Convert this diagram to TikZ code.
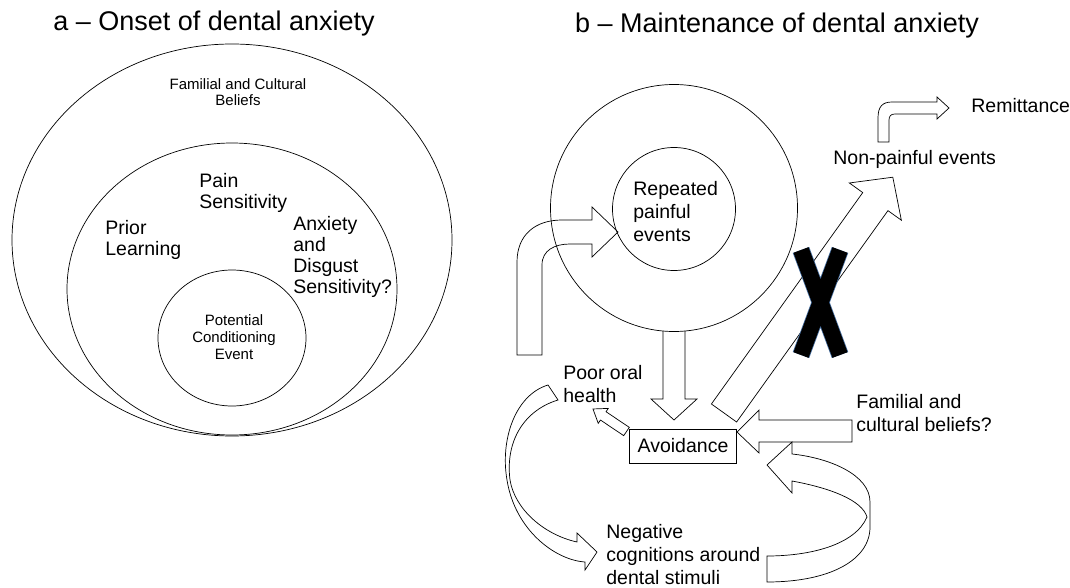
\documentclass[tikz,border=0pt]{standalone}
\usepackage{fontspec}
\setmainfont{Liberation Sans}
\usetikzlibrary{shapes.geometric}

\tikzset{
  panel title/.style={font=\fontsize{27}{30}\selectfont, inner sep=0pt},
  left label/.style={font=\fontsize{19.5}{21}\selectfont, align=left, inner sep=0pt, anchor=west},
  right label/.style={font=\fontsize{19.5}{23}\selectfont, align=left, inner sep=0pt, anchor=west},
  small label/.style={font=\fontsize{15}{16}\selectfont, align=center, inner sep=0pt},
  ring/.style={draw, line width=0.7pt},
  block arrow/.style={draw, line width=0.7pt, line join=miter},
}

\begin{document}
\begin{tikzpicture}[x=1pt, y=-1pt, line width=0.7pt]
  \useasboundingbox (0,0) rectangle (1070,588);

  % Panel a: onset, nested circles
  \node [panel title] (titleA) at (214,24) {a \textendash{} Onset of dental anxiety};
  \node [ring, ellipse, minimum width=440pt, minimum height=392pt] (beliefs) at (232,240) {};
  \node [ring, ellipse, minimum width=330pt, minimum height=292pt] (traits) at (232,289) {};
  \node [ring, ellipse, minimum width=148pt, minimum height=136pt] (event) at (232,338) {};

  \node [small label] (famA) at (238,92) {Familial and Cultural\\Beliefs};
  \node [left label] (pain) at (199,193) {Pain\\Sensitivity};
  \node [left label] (prior) at (105,240) {Prior\\Learning};
  \node [left label] (anxdis) at (293,257) {Anxiety\\and\\Disgust\\Sensitivity?};
  \node [small label, font=\fontsize{15}{17}\selectfont] (pce) at (234,337) {Potential\\Conditioning\\Event};

  % Panel b: maintenance cycle
  \node [panel title] (titleB) at (777,26) {b \textendash{} Maintenance of dental anxiety};
  \node [ring, circle, minimum size=247pt] (dentist) at (674,208) {};
  \node [ring, circle, minimum size=123pt] (painful) at (674,209) {};
  \node [right label] (repeated) at (633,212) {Repeated\\painful\\events};

  \node [draw, inner sep=0pt, minimum width=107pt, minimum height=34pt,
    font=\fontsize{19.5}{23}\selectfont] (avoid) at (683,446) {Avoidance};
  \node [right label] (poor) at (563,384) {Poor oral\\health};
  \node [right label] (negative) at (606,555) {Negative\\cognitions around\\dental stimuli};
  \node [right label] (famB) at (856,413) {Familial and\\cultural beliefs?};
  \node [right label] (nonpain) at (833,159) {Non-painful events};
  \node [right label] (remit) at (971,106) {Remittance};

  % bent arrow into the painful events
  \draw [block arrow] (517,355) -- (517,262) .. controls (517,235) and (535,220) .. (562,220)
    -- (592,220) -- (592,207) -- (618,232) -- (592,257) -- (592,244) -- (570,244)
    .. controls (555,244) and (542,250) .. (542,265) -- (542,355) -- cycle;

  % circle down to avoidance
  \draw [block arrow] (663,331) -- (663,399) -- (651,399) -- (674,420) -- (697,399)
    -- (685,399) -- (685,331);

  % avoidance to non-painful events
  \begin{scope}[shift={(724,413)}, rotate=54.4]
    \draw [block arrow] (0,-15.5) -- (260,-15.5) -- (260,-32) -- (290,0) -- (260,32)
      -- (260,15.5) -- (0,15.5) -- cycle;
  \end{scope}

  % avoidance to poor oral health
  \begin{scope}[shift={(626.5,431.5)}, rotate=146.1]
    \draw [block arrow] (0,-5) -- (28,-5) -- (28,-9) -- (40.4,0) -- (28,9) -- (28,5)
      -- (0,5) -- cycle;
  \end{scope}

  % familial beliefs into avoidance
  \draw [block arrow] (852,420) -- (759,420) -- (759,410) -- (737,432) -- (759,453)
    -- (759,442) -- (852,442) -- cycle;

  % non-painful events on to remittance
  \draw [block arrow] (878,142) -- (878,118) .. controls (878,107) and (882,102) .. (892,102)
    -- (937,102) -- (937,97) -- (949,108) -- (937,119) -- (937,114) -- (895,114)
    .. controls (891,114) and (889,116) .. (889,120) -- (889,142) -- cycle;

  % negative cognitions back to avoidance
  \draw [block arrow] (767,582) .. controls (830,582) and (870,560) .. (870,527) -- (870,502)
    .. controls (870,475) and (830,458) .. (792,454) -- (792,442) -- (767,465)
    -- (792,493) -- (792,481) .. controls (830,488) and (862,500) .. (867,517)
    .. controls (855,545) and (810,556) .. (767,556) -- cycle;

  % poor oral health on to negative cognitions
  \draw [block arrow] (548,385) .. controls (515,395) and (500,440) .. (507,480)
    .. controls (515,530) and (555,560) .. (585,562) -- (585,570) -- (597,552)
    -- (577,533) -- (577,542) .. controls (545,535) and (515,510) .. (510,480)
    .. controls (505,440) and (525,410) .. (558,400) -- cycle;

  % cross over the non-painful route
  \draw [line width=17.5pt, draw={rgb,255:red,70;green,110;blue,160}]
    (801,250) -- (840,355) (840,250) -- (801,355);
  \draw [line width=16pt, black] (801,250) -- (840,355) (840,250) -- (801,355);
\end{tikzpicture}
\end{document}
